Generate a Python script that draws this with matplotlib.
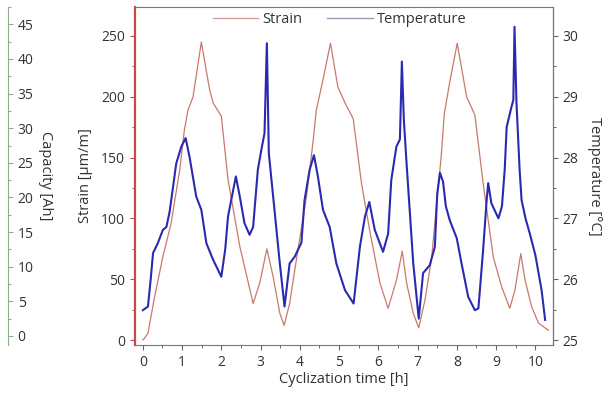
import matplotlib
matplotlib.use("Agg")
import matplotlib.pyplot as plt
from matplotlib.ticker import MultipleLocator
from matplotlib.lines import Line2D

plt.rcParams['font.family'] = ['Open Sans', 'DejaVu Sans']

# Strain series (h, µm/m)
t_strain = [0.0, 0.04, 0.13, 0.3, 0.51, 0.72, 0.94, 1.06, 1.15, 1.28,
            1.49, 1.7, 1.79, 2.0, 2.17, 2.47, 2.81, 2.98, 3.16, 3.32,
            3.49, 3.6, 3.74, 3.95, 4.17, 4.34, 4.42, 4.59, 4.78, 4.97,
            5.15, 5.36, 5.57, 5.78, 6.04, 6.25, 6.46, 6.61, 6.72, 6.89,
            7.03, 7.19, 7.36, 7.47, 7.6, 7.68, 7.82, 8.01, 8.25, 8.46,
            8.67, 8.93, 9.14, 9.35, 9.48, 9.63, 9.74, 9.91, 10.08, 10.33]
strain = [0, 1.4, 5.5, 35.6, 68.5, 96, 140, 173, 189, 200,
          245, 206, 195, 184, 132, 77, 30, 47, 75, 52,
          22, 12, 30, 74, 118, 164, 189, 214, 244, 208,
          195, 182, 129, 90, 47, 26, 49, 73, 47, 22,
          10, 33, 68, 107, 150, 186, 212, 244, 200, 185,
          129, 68, 44, 26, 41, 71, 49, 27, 14, 8]

# Temperature series (h, °C)
t_temp = [0.0, 0.13, 0.2, 0.26, 0.38, 0.51, 0.6, 0.68, 0.77, 0.85,
          0.98, 1.09, 1.19, 1.36, 1.49, 1.62, 1.79, 2.0, 2.1, 2.17,
          2.37, 2.47, 2.59, 2.72, 2.81, 2.93, 3.02, 3.1, 3.16, 3.21,
          3.32, 3.49, 3.61, 3.74, 3.87, 3.95, 4.04, 4.12, 4.25, 4.36,
          4.46, 4.59, 4.76, 4.93, 5.15, 5.37, 5.53, 5.66, 5.77, 5.91,
          6.12, 6.25, 6.33, 6.46, 6.55, 6.6, 6.65, 6.72, 6.89, 7.03,
          7.14, 7.31, 7.44, 7.5, 7.57, 7.65, 7.72, 7.82, 8.0, 8.12,
          8.29, 8.46, 8.55, 8.67, 8.76, 8.8, 8.88, 9.06, 9.15, 9.22,
          9.27, 9.38, 9.44, 9.47, 9.52, 9.6, 9.65, 9.75, 9.86, 10.0,
          10.16, 10.25]
temperature = [25.49, 25.55, 26.0, 26.43, 26.59, 26.81, 26.86, 27.1, 27.52, 27.9,
               28.18, 28.32, 28.01, 27.36, 27.14, 26.59, 26.32, 26.04, 26.5, 27.03,
               27.69, 27.36, 26.92, 26.73, 26.86, 27.8, 28.13, 28.4, 29.88, 28.07,
               27.36, 26.26, 25.55, 26.26, 26.37, 26.48, 26.6, 27.3, 27.8, 28.04,
               27.69, 27.14, 26.86, 26.26, 25.82, 25.6, 26.53, 27.03, 27.27, 26.81,
               26.45, 26.75, 27.63, 28.18, 28.3, 29.58, 28.62, 27.9, 26.26, 25.35,
               26.1, 26.23, 26.53, 27.4, 27.75, 27.6, 27.2, 26.97, 26.67, 26.26,
               25.71, 25.49, 25.52, 26.48, 27.3, 27.58, 27.25, 27.0, 27.2, 27.8,
               28.5, 28.8, 28.95, 30.15, 28.9, 27.8, 27.3, 27.0, 26.75, 26.4,
               25.82, 25.33]

strain_ticks = [0, 50, 100, 150, 200, 250]
temp_ticks = [25, 26, 27, 28, 29, 30]
cap_ticks = [0, 5, 10, 15, 20, 25, 30, 35, 40, 45]
x_ticks = list(range(11))

RED = '#c9786c'
BLUE = '#2a2ab0'
SPINE_RED = '#c84848'
GREEN = '#8fae8f'
TXT = '#333333'
FS = 10
LFS = 10.5

fig = plt.figure(figsize=(6.07, 3.94), dpi=100)
ax = fig.add_axes([0.2224, 0.1244, 0.6886, 0.8578])
ax2 = ax.twinx()
ax3 = ax.twinx()

ax.plot(t_strain, strain, color=RED, lw=0.9, zorder=2)
ax2.plot(t_temp, temperature, color=BLUE, lw=1.5, zorder=3)

ax.set_xlim(-0.2, 10.45)
ax.set_ylim(-4.1, 273.8)
ax2.set_ylim(24.918, 30.476)
ax3.set_ylim(-1.3, 47.5)

ax.set_xticks(x_ticks)
ax.xaxis.set_minor_locator(MultipleLocator(0.5))
ax.set_yticks(strain_ticks)
ax.yaxis.set_minor_locator(MultipleLocator(25))
ax2.set_yticks(temp_ticks)
ax2.yaxis.set_minor_locator(MultipleLocator(0.5))
ax3.set_yticks(cap_ticks)
ax3.yaxis.set_minor_locator(MultipleLocator(2.5))

for a in (ax, ax2, ax3):
    a.tick_params(which='both', direction='out', colors='#666666',
                  labelcolor=TXT, labelsize=FS)
    a.tick_params(which='major', length=3.5, width=0.8)
    a.tick_params(which='minor', length=2, width=0.7)

ax.spines['left'].set_color(SPINE_RED)
ax.spines['left'].set_linewidth(1.6)
ax.tick_params(axis='y', which='both', colors=SPINE_RED, labelcolor=TXT)
for s in ('top', 'bottom'):
    ax.spines[s].set_color('#777777')
ax2.spines['right'].set_color('#777777')
ax2.spines['top'].set_visible(False)
ax2.spines['left'].set_visible(False)
ax2.spines['bottom'].set_visible(False)

# Capacity axis moved to far left
ax3.spines['right'].set_position(('axes', -0.304))
ax3.spines['right'].set_color(GREEN)
for s in ('top', 'left', 'bottom'):
    ax3.spines[s].set_visible(False)
ax3.tick_params(axis='y', which='both', colors=GREEN, labelcolor=TXT)

ax.set_xlabel('Cyclization time [h]', fontsize=LFS, color=TXT, labelpad=2)
ax.set_ylabel('Strain [µm/m]', fontsize=LFS, color=TXT, labelpad=6)
ax2.set_ylabel('Temperature [°C]', fontsize=LFS, color=TXT, rotation=270, labelpad=17)
ax3.set_ylabel('Capacity [Ah]', fontsize=LFS, color=TXT, rotation=270, labelpad=14)

handles = [Line2D([], [], color='#d9a0a0', lw=1.0),
           Line2D([], [], color='#9a9ab8', lw=1.0)]
leg = ax.legend(handles, ['Strain', 'Temperature'], loc='upper center',
                bbox_to_anchor=(0.49, 1.025), ncol=2, frameon=False,
                fontsize=LFS, handlelength=3.1, columnspacing=1.7,
                handletextpad=0.3)
for t in leg.get_texts():
    t.set_color(TXT)

fig.savefig('out.png', dpi=100)
